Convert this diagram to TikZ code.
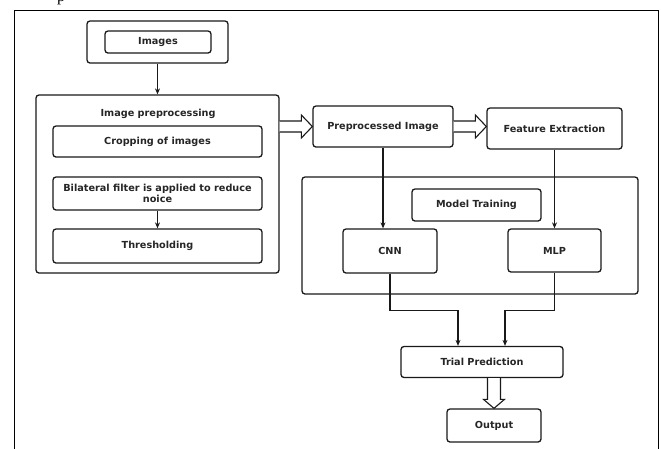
\documentclass[tikz,border=0pt]{standalone}
\usepackage{fontspec}
\setmainfont{DejaVu Sans}
\newfontfamily\capfont{Liberation Serif}
\usetikzlibrary{calc,arrows.meta}
\begin{document}
\begin{tikzpicture}[x=1pt,y=-1pt,
  txt/.style={font=\bfseries\fontsize{9.7}{11.5}\selectfont, text=black!85},
  box/.style={draw=black!90, line width=1.3pt, rounded corners=3pt, inner sep=0pt, align=center, txt},
  conn/.style={draw=black!90, line width=1.1pt, -{Stealth[length=6pt,width=5pt]}},
  fat/.style={draw=black!90, line width=1.1pt, fill=white, line join=miter}]
\useasboundingbox (0,0) rectangle (661,448);
\clip (0,0) rectangle (661,448);
% caption fragment and outer frame
\node[font=\capfont\fontsize{16}{16}\selectfont, anchor=base, inner sep=0pt] (cap) at (61,1.5) {p};
\node[draw=black, line width=1.1pt, minimum width=644, minimum height=460, anchor=north west, inner sep=0pt] (frame) at (14,10) {};
% left column
\node[box, minimum width=141, minimum height=42] (imgo) at (157.5,42) {};
\node[box, minimum width=106, minimum height=22] (img) at (158,42) {Images};
\node[box, minimum width=243, minimum height=178] (pp) at (157.5,184) {};
\node[txt] (ppt) at (158,114) {Image preprocessing};
\node[box, minimum width=209, minimum height=31] (crop) at (157.5,141.5) {Cropping of images};
\node[box, minimum width=209, minimum height=33] (bil) at (157.5,193.5) {Bilateral filter is applied to reduce\\noice};
\node[box, minimum width=209, minimum height=34] (thr) at (157.5,246) {Thresholding};
% right part
\node[box, minimum width=140, minimum height=41] (pi) at (383,126.5) {Preprocessed Image};
\node[box, minimum width=135, minimum height=41] (fe) at (554.5,128.5) {Feature Extraction};
\node[box, minimum width=336, minimum height=117] (mt) at (470,235.5) {};
\node[box, minimum width=129, minimum height=32] (mtt) at (476.5,205) {Model Training};
\node[box, minimum width=94, minimum height=44] (cnn) at (390,251) {CNN};
\node[box, minimum width=93, minimum height=43] (mlp) at (554.5,250.5) {MLP};
\node[box, minimum width=162, minimum height=31] (trial) at (482,362) {Trial Prediction};
\node[box, minimum width=94, minimum height=33] (out) at (494,425.5) {Output};
% connectors
\draw[conn] (imgo.south) -- (pp.north);
\draw[conn] (bil.south) -- (thr.north);
\draw[conn] (pi.south) -- (pi.south |- cnn.north);
\draw[conn] (fe.south) -- (fe.south |- mlp.north);
\draw[conn] (cnn.south) -- ++(0,37) -| ($(trial.north)+(-24,0)$);
\draw[conn] (mlp.south) -- ++(0,38) -| ($(trial.north)+(23,0)$);
% fat arrows
\draw[fat] ($(pp.east |- pi.west)+(0,-5.5)$) -- ($(pi.west)+(-11,-5.5)$) -- ($(pi.west)+(-11,-11.5)$) -- (pi.west) -- ($(pi.west)+(-11,11.5)$) -- ($(pi.west)+(-11,5.5)$) -- ($(pp.east |- pi.west)+(0,5.5)$);
\coordinate (fetip) at (fe.west |- pi.east);
\draw[fat] ($(pi.east)+(0,-5.5)$) -- ($(fetip)+(-11,-5.5)$) -- ($(fetip)+(-11,-11.5)$) -- (fetip) -- ($(fetip)+(-11,11.5)$) -- ($(fetip)+(-11,5.5)$) -- ($(pi.east)+(0,5.5)$);
\coordinate (outbase) at (out.north |- trial.south);
\draw[fat] ($(outbase)+(-6.5,0)$) -- ($(out.north)+(-6.5,-9)$) -- ($(out.north)+(-10.5,-9)$) -- (out.north) -- ($(out.north)+(10.5,-9)$) -- ($(out.north)+(6.5,-9)$) -- ($(outbase)+(6.5,0)$);
\end{tikzpicture}
\end{document}
